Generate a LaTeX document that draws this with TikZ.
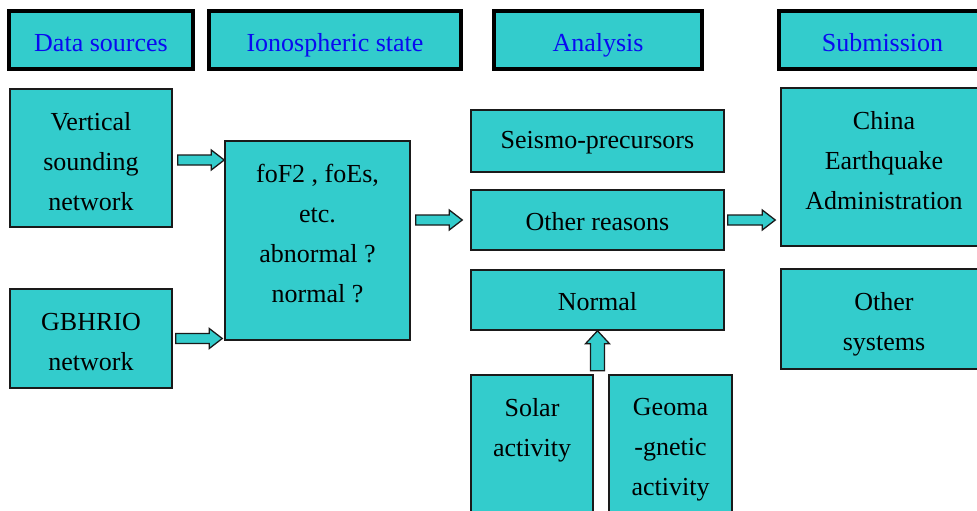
\documentclass[tikz,border=0pt]{standalone}
\usepackage{fontspec}
\setmainfont{Liberation Serif}
\usetikzlibrary{calc}
\definecolor{teal1}{HTML}{33CCCC}
\definecolor{hdblue}{HTML}{0A0AF0}
\definecolor{edge}{HTML}{1A1A1A}
\begin{document}
\begin{tikzpicture}[x=1pt,y=-1pt,
  txt/.style={font=\fontsize{26}{40}\selectfont, align=center, inner sep=0pt},
  hdbox/.style={draw=black, line width=3.5pt, fill=teal1, inner sep=0pt, text=hdblue, font=\fontsize{26}{40}\selectfont, minimum height=58pt, text height=23pt, text depth=0pt},
  box/.style={draw=edge, line width=1.5pt, fill=teal1, inner sep=0pt},
  barrow/.style={draw=edge, line width=1.3pt, fill=teal1, line join=miter}
]
\useasboundingbox (0,0) rectangle (977,511);
\clip (0,0) rectangle (977,511);
\fill[white] (0,0) rectangle (977,511);

% headers
\node[hdbox, minimum width=184pt] (hds) at (101,40) {Data sources};
\node[hdbox, minimum width=252pt] (his) at (335,40) {Ionospheric state};
\node[hdbox, minimum width=208pt] (han) at (598,40) {Analysis};
\node[hdbox, minimum width=207pt] (hsu) at (882.5,40) {Submission};

% data sources
\node[box, minimum width=162pt, minimum height=138pt] (vsn) at (91,158) {};
\node[txt] (vsnt) at (91,162) {Vertical\\sounding\\network};
\node[box, minimum width=162pt, minimum height=99pt] (gb) at (91,338.5) {};
\node[txt] (gbt) at (91,342) {GBHRIO\\network};

% ionospheric state
\node[box, minimum width=185pt, minimum height=199pt] (fo) at (317.5,240.5) {};
\node[txt] (fot) at (317.5,234) {foF2 , foEs,\\etc.\\abnormal ?\\normal ?};

% analysis
\node[box, minimum width=253pt, minimum height=62pt] (sp) at (597.5,141) {};
\node[txt] (spt) at (597.5,143) {Seismo-precursors};
\node[box, minimum width=253pt, minimum height=60pt] (oth) at (597.5,220) {};
\node[txt] (otht) at (597.5,222) {Other reasons};
\node[box, minimum width=253pt, minimum height=60pt] (norm) at (597.5,300) {};
\node[txt] (normt) at (597.5,302) {Normal};
\node[box, minimum width=122pt, minimum height=156pt] (sol) at (532,453) {};
\node[txt] (solt) at (532,430) {Solar\\activity};
\node[box, minimum width=123pt, minimum height=156pt] (geo) at (670.5,453) {};
\node[txt] (geot) at (670.5,450) {Geoma\\-gnetic\\activity};

% submission
\node[box, minimum width=206pt, minimum height=158pt] (cea) at (884,167) {};
\node[txt] (ceat) at (884,161) {China\\Earthquake\\Administration};
\node[box, minimum width=206pt, minimum height=100pt] (os) at (884,319) {};
\node[txt] (ost) at (884,324) {Other\\systems};

% block arrows (horizontal)
\draw[barrow] let \p1=($(vsn.east)+(5,2)$), \p2=($(fo.west |- vsn.east)+(0,2)$) in
  (\x1,\y1+5pt) -- (\x2-13pt,\y1+5pt) -- (\x2-13pt,\y1+10pt) -- (\x2,\y1) -- (\x2-13pt,\y1-10pt) -- (\x2-13pt,\y1-5pt) -- (\x1,\y1-5pt) -- cycle;
\draw[barrow] let \p1=($(gb.east)+(3,0)$), \p2=($(fo.west |- gb.east)+(-2,0)$) in
  (\x1,\y1+5pt) -- (\x2-13pt,\y1+5pt) -- (\x2-13pt,\y1+10pt) -- (\x2,\y1) -- (\x2-13pt,\y1-10pt) -- (\x2-13pt,\y1-5pt) -- (\x1,\y1-5pt) -- cycle;
\draw[barrow] let \p1=($(fo.east |- oth.west)+(5,0)$), \p2=($(oth.west)+(-8,0)$) in
  (\x1,\y1+5pt) -- (\x2-13pt,\y1+5pt) -- (\x2-13pt,\y1+10pt) -- (\x2,\y1) -- (\x2-13pt,\y1-10pt) -- (\x2-13pt,\y1-5pt) -- (\x1,\y1-5pt) -- cycle;
\draw[barrow] let \p1=($(oth.east)+(3,0)$), \p2=($(cea.west |- oth.east)+(-5,0)$) in
  (\x1,\y1+5pt) -- (\x2-13pt,\y1+5pt) -- (\x2-13pt,\y1+10pt) -- (\x2,\y1) -- (\x2-13pt,\y1-10pt) -- (\x2-13pt,\y1-5pt) -- (\x1,\y1-5pt) -- cycle;
% vertical up arrow
\draw[barrow] let \p1=($(norm.south)+(0,40)$), \p2=(norm.south) in
  (\x1-7pt,\y1) -- (\x1-7pt,\y2-13pt) -- (\x1-12pt,\y2-13pt) -- (\x1,\y2) -- (\x1+12pt,\y2-13pt) -- (\x1+7pt,\y2-13pt) -- (\x1+7pt,\y1) -- cycle;
\end{tikzpicture}
\end{document}
